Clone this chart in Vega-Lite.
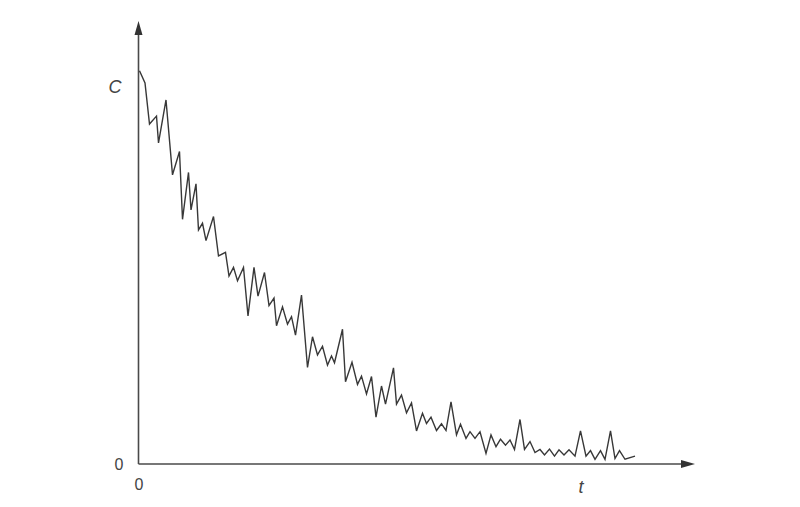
{
  "$schema": "https://vega.github.io/schema/vega-lite/v6.json",
  "width": 800,
  "height": 507,
  "autosize": "none",
  "padding": 0,
  "background": "white",
  "config": {"view": {"stroke": null}},
  "datasets": {
    "series": [
      {"t": 0.2, "C": 0.998}, {"t": 1.3, "C": 0.967}, {"t": 2.2, "C": 0.863}, {"t": 3.6, "C": 0.883},
      {"t": 4.0, "C": 0.815}, {"t": 5.5, "C": 0.924}, {"t": 6.8, "C": 0.734}, {"t": 8.2, "C": 0.793},
      {"t": 8.8, "C": 0.621}, {"t": 10.0, "C": 0.740}, {"t": 10.5, "C": 0.645}, {"t": 11.5, "C": 0.711},
      {"t": 12.0, "C": 0.594}, {"t": 12.8, "C": 0.611}, {"t": 13.5, "C": 0.567}, {"t": 15.0, "C": 0.628},
      {"t": 16.0, "C": 0.528}, {"t": 17.4, "C": 0.537}, {"t": 18.1, "C": 0.477}, {"t": 19.0, "C": 0.499},
      {"t": 19.8, "C": 0.465}, {"t": 21.0, "C": 0.499}, {"t": 21.9, "C": 0.376}, {"t": 23.1, "C": 0.499},
      {"t": 23.9, "C": 0.426}, {"t": 25.2, "C": 0.486}, {"t": 26.1, "C": 0.402}, {"t": 27.1, "C": 0.421},
      {"t": 27.6, "C": 0.351}, {"t": 28.8, "C": 0.399}, {"t": 29.8, "C": 0.355}, {"t": 30.6, "C": 0.374},
      {"t": 31.4, "C": 0.327}, {"t": 32.6, "C": 0.429}, {"t": 33.8, "C": 0.245}, {"t": 34.8, "C": 0.323},
      {"t": 35.8, "C": 0.277}, {"t": 36.8, "C": 0.299}, {"t": 37.8, "C": 0.251}, {"t": 38.6, "C": 0.274},
      {"t": 39.2, "C": 0.257}, {"t": 40.8, "C": 0.342}, {"t": 41.4, "C": 0.209}, {"t": 42.7, "C": 0.258},
      {"t": 43.8, "C": 0.202}, {"t": 44.6, "C": 0.223}, {"t": 45.6, "C": 0.178}, {"t": 46.6, "C": 0.222},
      {"t": 47.5, "C": 0.119}, {"t": 48.6, "C": 0.198}, {"t": 49.4, "C": 0.152}, {"t": 51.0, "C": 0.244},
      {"t": 51.6, "C": 0.152}, {"t": 52.6, "C": 0.175}, {"t": 53.6, "C": 0.130}, {"t": 54.6, "C": 0.155},
      {"t": 55.6, "C": 0.084}, {"t": 56.8, "C": 0.129}, {"t": 57.6, "C": 0.103}, {"t": 58.5, "C": 0.119},
      {"t": 59.6, "C": 0.085}, {"t": 60.6, "C": 0.102}, {"t": 61.5, "C": 0.085}, {"t": 62.5, "C": 0.158},
      {"t": 63.6, "C": 0.074}, {"t": 64.4, "C": 0.101}, {"t": 65.5, "C": 0.065}, {"t": 66.3, "C": 0.082},
      {"t": 67.3, "C": 0.065}, {"t": 68.3, "C": 0.082}, {"t": 69.5, "C": 0.027}, {"t": 70.5, "C": 0.074},
      {"t": 71.5, "C": 0.044}, {"t": 72.4, "C": 0.063}, {"t": 73.4, "C": 0.048}, {"t": 74.3, "C": 0.061},
      {"t": 75.2, "C": 0.037}, {"t": 76.3, "C": 0.113}, {"t": 77.2, "C": 0.037}, {"t": 78.3, "C": 0.057},
      {"t": 79.3, "C": 0.029}, {"t": 80.3, "C": 0.037}, {"t": 81.2, "C": 0.023}, {"t": 82.2, "C": 0.038},
      {"t": 83.2, "C": 0.020}, {"t": 84.1, "C": 0.036}, {"t": 85.1, "C": 0.023}, {"t": 86.1, "C": 0.036},
      {"t": 87.3, "C": 0.020}, {"t": 88.4, "C": 0.084}, {"t": 89.5, "C": 0.020}, {"t": 90.4, "C": 0.034},
      {"t": 91.3, "C": 0.012}, {"t": 92.4, "C": 0.034}, {"t": 93.3, "C": 0.012}, {"t": 94.4, "C": 0.084},
      {"t": 95.3, "C": 0.014}, {"t": 96.2, "C": 0.034}, {"t": 97.3, "C": 0.012}, {"t": 99.3, "C": 0.020}
    ],
    "axes": [
      {"t": 0, "C": 0, "t2": 0, "C2": 1.095},
      {"t": 0, "C": 0, "t2": 108.8, "C2": 0}
    ],
    "arrows": [
      {"dir": "up", "t": 0, "C": 1.1244},
      {"dir": "right", "t": 111.3, "C": 0}
    ],
    "zeros": [
      {"t": -3.9, "C": -0.003, "label": "0"},
      {"t": 0.1, "C": -0.053, "label": "0"}
    ],
    "names": [
      {"t": -4.7, "C": 0.954, "label": "C"},
      {"t": 88.5, "C": -0.061, "label": "t"}
    ]
  },
  "encoding": {
    "x": {"field": "t", "type": "quantitative", "axis": null,
      "scale": {"domain": [-27.7, 132.3], "nice": false, "zero": false}},
    "y": {"field": "C", "type": "quantitative", "axis": null,
      "scale": {"domain": [-0.1091, 1.1777], "nice": false, "zero": false}}
  },
  "layer": [
    {
      "data": {"name": "axes"},
      "mark": {"type": "rule", "color": "#4a4a4a", "strokeWidth": 1.6},
      "encoding": {"x2": {"field": "t2"}, "y2": {"field": "C2"}}
    },
    {
      "data": {"name": "arrows"},
      "transform": [{"filter": "datum.dir == 'up'"}],
      "mark": {"type": "point", "shape": "M0,0L0.57,2L-0.57,2Z", "size": 196, "filled": true, "color": "#333333", "opacity": 1}
    },
    {
      "data": {"name": "arrows"},
      "transform": [{"filter": "datum.dir == 'right'"}],
      "mark": {"type": "point", "shape": "M0,0L-2,-0.57L-2,0.57Z", "size": 196, "filled": true, "color": "#333333", "opacity": 1}
    },
    {
      "data": {"name": "series"},
      "mark": {"type": "line", "color": "#383838", "strokeWidth": 1.4, "strokeJoin": "miter"}
    },
    {
      "data": {"name": "zeros"},
      "mark": {"type": "text", "font": "Liberation Sans", "fontSize": 16, "color": "#444444", "align": "center", "baseline": "middle"},
      "encoding": {"text": {"field": "label"}}
    },
    {
      "data": {"name": "names"},
      "mark": {"type": "text", "font": "Liberation Sans", "fontSize": 18, "fontStyle": "italic", "color": "#444444", "align": "center", "baseline": "middle"},
      "encoding": {"text": {"field": "label"}}
    }
  ]
}
